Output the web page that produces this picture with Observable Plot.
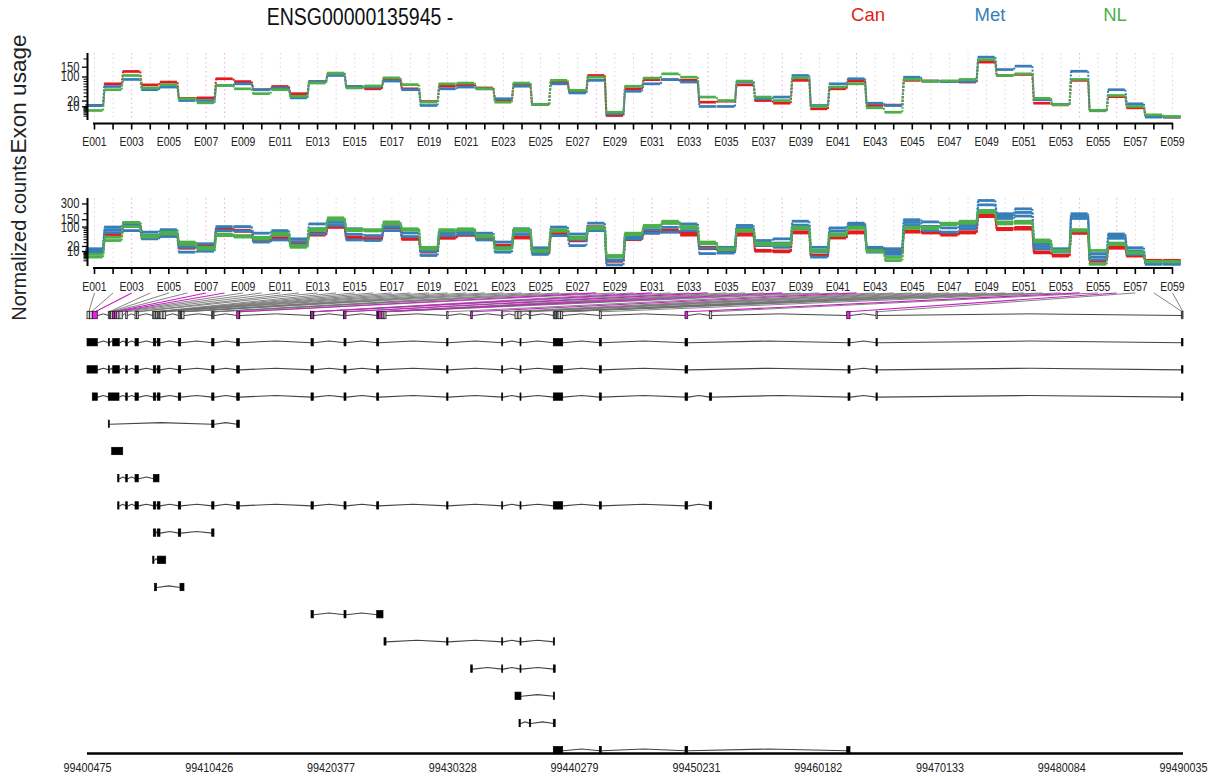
<!DOCTYPE html>
<html><head><meta charset="utf-8">
<script src="https://cdn.jsdelivr.net/npm/d3@7"></script>
<script src="https://cdn.jsdelivr.net/npm/@observablehq/plot@0.6"></script>
<style>
html,body{margin:0;padding:0;background:#fff;}
#chart{position:relative;width:1212px;height:776px;overflow:hidden;background:#fff;}
#chart svg{position:absolute;left:0;}
.lbl{position:absolute;white-space:nowrap;transform:translate(-50%,-50%);line-height:1;font-family:"Liberation Sans",Arial,sans-serif;}
</style></head><body>
<div id="chart"></div>
<script>
// ---------------- data ----------------
const geneTitle = "ENSG00000135945 -";
const conditionNames = ["Can", "Met", "NL"];
const exonLabels = ["E001","E002","E003","E004","E005","E006","E007","E008","E009","E010",
"E011","E012","E013","E014","E015","E016","E017","E018","E019","E020",
"E021","E022","E023","E024","E025","E026","E027","E028","E029","E030",
"E031","E032","E033","E034","E035","E036","E037","E038","E039","E040",
"E041","E042","E043","E044","E045","E046","E047","E048","E049","E050",
"E051","E052","E053","E054","E055","E056","E057","E058","E059"];

// exon usage (top panel), per condition
const canUsage = [12,71,127,67,78,26,27,92,80,50,61,38,80,118,61,53,89,53,19,62,68,56,23,71,13.5,78,42,107,1.3,53,88,88,85,17.7,19.7,67,21,15.8,85,7.2,53,82,11.9,12.5,85,82,80,78,180,107,112,15.8,13,85,5,30,8.5,1.2,0.6];
const metUsage = [11.9,61,89,50,59,21,21,65,71,50,56,27,80,107,61,59,82,50,11.9,53,59,53,25,62,13.5,71,40,85,2.4,45,71,88,78,10.4,10.4,78,25,29,107,11.9,71,92,15.8,11.9,99,82,80,80,212,137,156,23,13.5,128,5.5,50,14.7,0.6,0.6];
const nlUsage  = [5.3,50,107,56,68,25,16.5,65,53,38,50,31,74,118,56,63,96,68,17.7,71,74,53,17.7,74,13.5,85,48,99,3.6,62,95,115,99,29,21,82,29,21,96,10.4,59,71,8.5,3.6,89,82,83,89,195,107,115,26,13,89,5.3,33,10.4,1.7,0.85];

// normalized counts (bottom panel), per sample
const canHi  = [10,63,116,52,66,20,24,92,82,40,47,33,66,106,50,44,102,45,11,50,62,47,23,50,9.5,65,40,102,1.2,45,74,82,66,18,12,65,12,11,74,5,50,74,17,9.5,78,74,63,74,190,92,98,9.5,5,74,1.2,19,5,1.2,1.2];
const canLo  = [7,52,103,46,60,16,20,85,76,36,42,29,58,98,45,40,95,41,9,45,57,43,20,46,8,58,36,95,0.8,40,68,74,58,15,10.5,58,10.5,9.5,68,4.2,46,68,15,8,72,68,58,68,175,85,88,8,4.2,66,0.8,16,4.2,0.9,0.9];
const metHi  = [15,100,130,72,85,27,27,103,103,67,80,43,120,150,90,80,120,87,17,76,85,67,32,90,17,100,63,125,3.3,61,100,125,120,30,18,110,37,43,139,18,95,125,18,15,150,134,120,120,341,200,247,27,15,200,7,63,17,0.3,0.3];
const metMid = [12,85,110,58,68,18,18,80,78,48,58,32,90,130,62,56,100,68,10,66,74,52,18,76,11,78,40,100,1.2,52,84,98,100,16,12,95,29,29,112,9,78,112,13,10,130,104,95,104,290,180,212,20,12,180,3.5,54,11,0.2,0.2];
const metLo  = [9,70,80,43,52,9,10.5,56,52,32,39,22,63,110,39,37,80,52,4.8,56,62,39,9,61,6,56,22,80,0.05,43,67,72,80,7,7.7,80,22,18,90,3.3,63,100,9,6,110,80,72,90,230,160,180,15,9,160,1.5,45,6,0.1,0.1];
const nlHi   = [6,49,130,56,72,32,18,63,56,49,67,22,90,165,88,85,134,90,18,85,90,56,17,88,12,85,50,98,4.8,67,110,139,103,32,15,85,29,27,100,12,63,100,12,3,100,100,125,139,231,134,139,39,12,85,11.7,29,9,0.8,0.8];
const nlLo   = [3.3,37,103,50,63,25,14,56,50,42,60,18,80,150,80,78,120,82,14,78,82,50,14,80,10,78,44,90,3.5,60,100,125,95,27,13,78,25,23,92,10,56,92,10,1.1,92,92,115,125,210,120,125,33,10,78,0.1,25,7.5,0.6,0.6];

// axis ticks
const usageTicks = [10,20,100,150];
const countTicks = [10,20,100,150,300];
const minorTicks = [1,2,3,4,5,6,7,8,9,30,40,50,60,70,80,90,200];
const genomicTicks = [99400475,99410426,99420377,99430328,99440279,99450231,99460182,99470133,99480084,99490035];

// flattened exonic parts (genomic start / end) and significant parts
const partStart = [99400475,99400679,99400908, 99402216,99402297,99402412,99402575,99402722,99402902,99403090, 99403637, 99404397,99404536,
99405844,99405950,99406089,99406220,99406358,99406440,99406685, 99407936,99408074,99408132,99408197, 99410665,99410706,99410787,
99412708,99412920,99418730, 99418779,99418967,99421427, 99421476, 99424148,99424205,99424254,99424311,99424581,99424744,
99429868, 99431829, 99434362, 99435449,99435694, 99436618, 99438579,99438652,99438734,99438840,99438963,99439167,
99442338, 99449341, 99451326, 99462554, 99464948, 99489900,99489968];
const partEnd = [99400679,99400908,99401317, 99402297,99402412,99402575,99402722,99402902,99403090,99403360, 99403768, 99404536,99404667,
99405950,99406089,99406220,99406358,99406440,99406685,99406906, 99408074,99408132,99408197,99408401, 99410706,99410787,99410853,
99412920,99412961,99418779, 99418967,99419008,99421476, 99421639, 99424205,99424254,99424311,99424581,99424744,99424908,
99429974, 99431960, 99434444, 99435694,99435939, 99436732, 99438652,99438734,99438840,99438963,99439167,99439347,
99442501, 99449561, 99451522, 99462824, 99465054, 99489968,99490035];
const sigExons = [3,7,8,28,31,34,38,42,54,56];

// transcripts (exon intervals)
const transcripts = [
 [[99400475,99401317],[99402216,99402297],[99402575,99403114],[99403637,99403768],[99404397,99404667],[99405893,99406089],[99406220,99406440],[99407936,99408132],[99410665,99410853],[99412708,99412920],[99418779,99418967],[99421476,99421639],[99424148,99424311],[99429868,99429974],[99434362,99434444],[99435858,99435939],[99438579,99439347],[99442338,99442501],[99449341,99449561],[99462660,99462824],[99464948,99465054],[99489900,99490035]],
 [[99400475,99401317],[99402216,99402297],[99402575,99403114],[99403637,99403768],[99404397,99404667],[99405893,99406089],[99406220,99406440],[99407936,99408132],[99410665,99410853],[99412708,99412920],[99418779,99418967],[99421476,99421639],[99424148,99424311],[99429868,99429974],[99434362,99434444],[99435858,99435939],[99438579,99439347],[99442338,99442501],[99449341,99449561],[99462660,99462824],[99464948,99465054],[99489900,99490035]],
 [[99400908,99401317],[99402216,99403090],[99403637,99403768],[99404397,99404667],[99405893,99406089],[99406220,99406440],[99407936,99408132],[99410665,99410853],[99412708,99412920],[99418779,99418967],[99421476,99421639],[99424148,99424311],[99429868,99429974],[99434362,99434444],[99435858,99435939],[99438579,99439347],[99442338,99442501],[99449341,99449561],[99451326,99451522],[99462660,99462824],[99464948,99465054],[99489900,99490035]],
 [[99402216,99402297],[99410665,99410853],[99412708,99412920]],
 [[99402493,99403392]],
 [[99402984,99403090],[99403637,99403768],[99404397,99404667],[99405893,99406358]],
 [[99402984,99403090],[99403637,99403768],[99404397,99404667],[99405893,99406089],[99406220,99406440],[99407936,99408132],[99410665,99410853],[99412708,99412920],[99418779,99418967],[99421476,99421639],[99424148,99424311],[99429868,99429974],[99434362,99434444],[99435858,99435939],[99438579,99439347],[99442338,99442501],[99449341,99449561],[99451326,99451522]],
 [[99405893,99406089],[99406220,99406440],[99407936,99408132],[99410665,99410853]],
 [[99405844,99405950],[99406220,99406906]],
 [[99406000,99406150],[99408074,99408401]],
 [[99418779,99418967],[99421476,99421639],[99424148,99424663]],
 [[99424744,99424908],[99429868,99429974],[99434362,99434444],[99435858,99435939],[99438579,99438680]],
 [[99431829,99431960],[99434362,99434444],[99435858,99435939],[99438579,99438734]],
 [[99435449,99435939],[99438579,99438680]],
 [[99435776,99435880],[99436618,99436732],[99438579,99438734]],
 [[99438579,99439347],[99442338,99442501],[99449341,99449561],[99462554,99462824]]
];

// ---------------- styling ----------------
const COLORS = ["#E41A1C", "#377EB8", "#4DAF4A"];
const FONT = '"Liberation Sans",Arial,sans-serif';
const MAGENTA = "#F219ED";
const chart = document.getElementById("chart");
const sigSet = new Set(sigExons);
const idx = exonLabels.map((d, i) => i + 1);
const HALF = 0.46;

function steps(series, color, sw) {
  const segs = series.map((v, k) => ({x1: k + 1 - HALF, x2: k + 1 + HALF, y: v}));
  const links = series.slice(0, -1).map((v, k) => ({x1: k + 1 + HALF, x2: k + 2 - HALF, y1: v, y2: series[k + 1]}));
  return [
    Plot.link(links, {x1: "x1", y1: "y1", x2: "x2", y2: "y2", stroke: color, strokeWidth: sw * 0.75, strokeDasharray: "2,1.5"}),
    Plot.ruleY(segs, {x1: "x1", x2: "x2", y: "y", stroke: color, strokeWidth: sw})
  ];
}
function grid() {
  return [
    Plot.ruleX(idx.filter(i => !sigSet.has(i)), {stroke: "#d8d8d8", strokeDasharray: "1.5,3", strokeWidth: 1}),
    Plot.ruleX(sigExons, {stroke: "#f4a0f0", strokeDasharray: "1.5,3", strokeWidth: 1})
  ];
}
function axes(yTop, majors, off, labelDy) {
  return [
    Plot.ruleX([1], {y1: 0, y2: yTop, dx: -7, stroke: "black", strokeWidth: 2}),
    Plot.ruleY(minorTicks.filter(t => t < yTop), {x1: 1, x2: 1, insetLeft: -10.5, insetRight: 7, stroke: "black", strokeWidth: 1}),
    Plot.ruleY(majors, {x1: 1, x2: 1, insetLeft: -12, insetRight: 7, stroke: "black", strokeWidth: 1.3}),
    Plot.text(majors, {x: 1, y: d => d, text: d => String(d), dx: -15, textAnchor: "end", fontSize: 14, fontFamily: FONT, fill: "#222"}),
    Plot.ruleY([0], {x1: 1, x2: 59, dy: off, insetLeft: -1, insetRight: -1, stroke: "black", strokeWidth: 2.2}),
    Plot.ruleX(idx, {y1: 0, y2: 0, insetTop: off, insetBottom: -(off + 6.5), stroke: "black", strokeWidth: 1.6}),
    Plot.text(idx.filter(i => i % 2 === 1), {x: d => d, y: 0, text: d => exonLabels[d - 1], dy: labelDy, fontSize: 13, fontFamily: FONT, fill: "#222"})
  ];
}
// horizontally condense the svg texts (the reference uses a narrow face)
function condense(svg, s) {
  svg.querySelectorAll("text").forEach(t => {
    const tr = t.getAttribute("transform");
    if (tr) t.setAttribute("transform", tr + ` scale(${s},1)`);
    else {
      const x = +t.getAttribute("x") || 0, y = +t.getAttribute("y") || 0;
      t.removeAttribute("x"); t.removeAttribute("y");
      t.setAttribute("transform", `translate(${x},${y}) scale(${s},1)`);
    }
  });
}
function place(svg, top) { svg.style.top = top + "px"; chart.appendChild(svg); return svg; }

// ---------------- top panel: exon usage ----------------
const usageSeries = [canUsage, metUsage, nlUsage];
const topPlot = Plot.plot({
  width: 1212, height: 110, marginLeft: 94, marginRight: 40, marginTop: 13, marginBottom: 30,
  x: {domain: [1, 59], axis: null},
  y: {type: "sqrt", domain: [0, 237], axis: null},
  style: {background: "transparent", overflow: "visible"},
  marks: [
    ...grid(),
    ...usageSeries.flatMap((s, c) => steps(s, COLORS[c], 2.7)),
    ...axes(237, usageTicks, 3, 21.5)
  ]
});
condense(topPlot, 0.8);
place(topPlot, 40);

// ---------------- bottom panel: normalized counts ----------------
const sampleSeries = [[canHi, canLo], [metHi, metMid, metLo], [nlHi, nlLo]];
const botPlot = Plot.plot({
  width: 1212, height: 110, marginLeft: 94, marginRight: 40, marginTop: 13, marginBottom: 29,
  x: {domain: [1, 59], axis: null},
  y: {type: "pow", exponent: 0.42, domain: [0, 366], axis: null},
  style: {background: "transparent", overflow: "visible"},
  marks: [
    ...grid(),
    ...sampleSeries.flatMap((ss, c) => ss.flatMap(s => steps(s, COLORS[c], 2.8))),
    ...axes(366, countTicks, 1.5, 20.5)
  ]
});
condense(botPlot, 0.8);
place(botPlot, 185);

// ---------------- gene model & transcripts ----------------
const G0 = genomicTicks[0], G1 = genomicTicks[genomicTicks.length - 1];
const geneX = d3.scaleLinear([G0, G1], [87, 1183]); // mirrors the Plot x scale below
const topX = topPlot.scale("x");
const BOX = 0.136, FAN_Y = -0.83, BUMP = 0.06;
const nRows = transcripts.length;

const parts = partStart.map((s, k) => ({s, e: partEnd[k], exon: k + 1, sig: sigSet.has(k + 1)}));
const fan = parts.map(p => ({x1: geneX.invert(topX.apply(p.exon)), y1: FAN_Y, x2: (p.s + p.e) / 2, y2: -BOX, sig: p.sig}));

function intronPts(exons, row, id) {
  const pts = [];
  for (let k = 0; k < exons.length - 1; k++) {
    const a = exons[k][1], b = exons[k + 1][0];
    if (b <= a) continue;
    const z = id + "-" + k;
    pts.push({x: a, y: row, z}, {x: (a + b) / 2, y: row - BUMP, z}, {x: b, y: row, z});
  }
  return pts;
}
const merged = [];
parts.forEach(p => {
  const last = merged[merged.length - 1];
  if (last && p.s <= last[1]) last[1] = Math.max(last[1], p.e); else merged.push([p.s, p.e]);
});
const modelIntrons = intronPts(merged, 0, "m");
const txIntrons = transcripts.flatMap((t, r) => intronPts(t, r + 1, "t" + r));
const txExons = transcripts.flatMap((t, r) => t.map(([s, e]) => ({s, e, row: r + 1})));

const genePlot = Plot.plot({
  width: 1212, height: 488, marginLeft: 87, marginRight: 29, marginTop: 27, marginBottom: 25.8,
  x: {domain: [G0, G1], axis: null},
  y: {domain: [0, nRows], reverse: true, axis: null},
  style: {background: "transparent", overflow: "visible"},
  marks: [
    Plot.link(fan.filter(d => !d.sig), {x1: "x1", y1: "y1", x2: "x2", y2: "y2", stroke: "#6f6f6f", strokeWidth: 1, strokeOpacity: 0.85}),
    Plot.link(fan.filter(d => d.sig), {x1: "x1", y1: "y1", x2: "x2", y2: "y2", stroke: "#c81ec5", strokeWidth: 1.1}),
    Plot.line(modelIntrons, {x: "x", y: "y", z: "z", stroke: "#444", strokeWidth: 1}),
    Plot.rect(parts, {x1: "s", x2: "e", y1: -BOX, y2: BOX, fill: d => d.sig ? MAGENTA : "#d4d4d4", stroke: "#222", strokeWidth: 0.8}),
    Plot.line(txIntrons, {x: "x", y: "y", z: "z", stroke: "#444", strokeWidth: 1.1}),
    Plot.rect(txExons, {x1: "s", x2: "e", y1: d => d.row - BOX, y2: d => d.row + BOX, fill: "black", stroke: "black", strokeWidth: 0.7}),
    Plot.ruleY([nRows], {dy: 2.8, stroke: "black", strokeWidth: 2.5}),
    Plot.text(genomicTicks, {x: d => d, y: nRows, dy: 17, text: d => String(d), fontSize: 13, fontFamily: FONT, fill: "#222"})
  ]
});
condense(genePlot, 0.83);
place(genePlot, 288);

// ---------------- titles, legend, axis titles ----------------
function label(text, x, y, css) {
  const d = document.createElement("div");
  d.className = "lbl"; d.textContent = text;
  d.style.left = x + "px"; d.style.top = y + "px";
  Object.assign(d.style, css || {});
  chart.appendChild(d);
}
label(geneTitle, 360, 18, {fontSize: "23.5px", color: "#111", transform: "translate(-50%,-50%) scaleX(0.83)"});
const legendX = [868, 990, 1115];
conditionNames.forEach((n, c) => label(n, legendX[c], 15, {fontSize: "18.5px", color: COLORS[c]}));
label("Exon usage", 19, 94, {fontSize: "22.5px", color: "#222", transform: "translate(-50%,-50%) rotate(-90deg)"});
label("Normalized counts", 19, 237.5, {fontSize: "20px", color: "#222", transform: "translate(-50%,-50%) rotate(-90deg)"});
</script></body></html>
